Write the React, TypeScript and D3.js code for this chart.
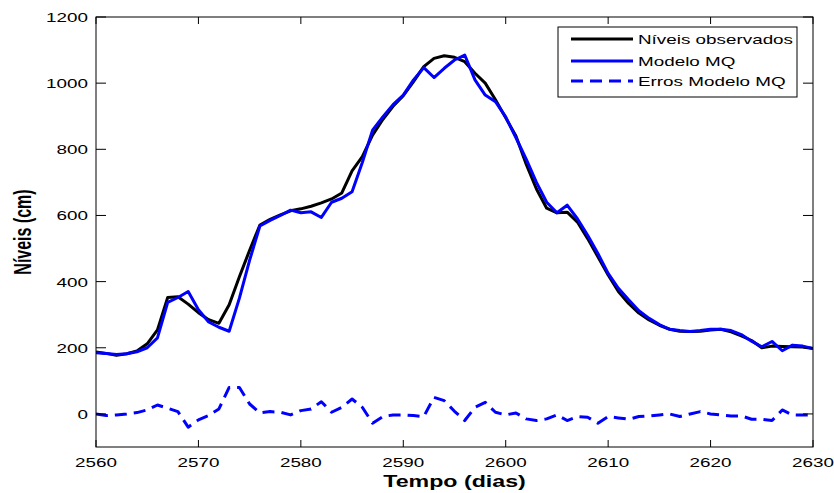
import React from "react";
import * as d3 from "d3";

const days: number[] = d3.range(2560, 2631);

const observed: number[] = [
  187, 183, 177, 182, 190, 212, 254, 352, 354, 332,
  306, 285, 274, 330, 415, 495, 571, 588, 602, 614,
  620, 628, 638, 650, 668, 735, 778, 843, 890, 930,
  962, 1005, 1050, 1075, 1083, 1078, 1065, 1030, 1000, 950,
  895, 840, 755, 680, 622, 608, 610, 580, 530, 475,
  420, 370, 334, 305, 284, 268, 256, 250, 249, 250,
  254, 256, 248, 236, 222, 200, 205, 204, 203, 202,
  198,
];

const model: number[] = [
  185, 183, 180, 182, 188, 200, 230, 337, 352, 370,
  315, 278, 262, 250, 350, 465, 568, 585, 600, 616,
  608, 611, 594, 640, 652, 672, 760, 858, 898, 935,
  964, 1010, 1047, 1017, 1045, 1070, 1085, 1010, 964, 944,
  898, 835, 770, 700, 640, 608, 631, 590, 540, 485,
  425, 380, 345, 312, 289, 270, 256, 252, 249, 252,
  256, 256, 252, 240, 220, 203, 219, 191, 208, 205,
  198,
];

const errors: number[] = [
  0, -5, -3, 0, 4, 12, 27, 17, 7, -40,
  -18, -5, 15, 80, 80, 30, 3, 7, 5, -3,
  10, 15, 37, 5, 20, 45, 20, -28, -8, -3,
  -3, -5, -8, 50, 40, 8, -20, 20, 35, 5,
  -3, 3, -15, -20, -15, -3, -20, -8, -10, -28,
  -8, -12, -16, -8, -6, -3, 0, -8, 0, 7,
  0, -3, -6, -6, -16, -16, -20, 12, -3, -3,
  -3,
];

const xTicks: number[] = [2560, 2570, 2580, 2590, 2600, 2610, 2620, 2630];
const yTicks: number[] = [0, 200, 400, 600, 800, 1000, 1200];

const legendLabels: string[] = ["Níveis observados", "Modelo MQ", "Erros Modelo MQ"];
const xLabel = "Tempo (dias)";
const yLabel = "Níveis (cm)";

const W = 834;
const H = 493;
const L = 96;
const R = 813;
const T = 17;
const B = 447;
const SX = 1.45;
const FONT = "'Liberation Sans', Arial, Helvetica, sans-serif";

export default function App() {
  const x = d3.scaleLinear().domain([2560, 2630]).range([L, R]);
  const y = d3.scaleLinear().domain([-100, 1200]).range([B, T]);

  const line = (vals: number[]) =>
    d3
      .line<number>()
      .x((_, i) => x(days[i]))
      .y((v) => y(v))(vals) || "";

  const legX = 558;
  const legY = 27;
  const legW = 239;
  const legH = 70;
  const rows = [39, 61, 81];
  const styles = [
    { stroke: "#000000", dash: undefined as string | undefined },
    { stroke: "#0000ff", dash: undefined as string | undefined },
    { stroke: "#0000ff", dash: "12,7" },
  ];

  return (
    <svg
      width={W}
      height={H}
      style={{ position: "absolute", left: 0, top: 0, background: "#fff" }}
    >
      <rect x={0} y={0} width={W} height={H} fill="#fff" />
      <defs>
        <clipPath id="plotclip">
          <rect x={L} y={T} width={R - L} height={B - T} />
        </clipPath>
      </defs>

      {/* data lines */}
      <g clipPath="url(#plotclip)" fill="none" strokeLinejoin="round">
        <path d={line(observed)} stroke="#000" strokeWidth={3} />
        <path d={line(model)} stroke="#0000ff" strokeWidth={3} />
        <path d={line(errors)} stroke="#0000ff" strokeWidth={3} strokeDasharray="12,7" />
      </g>

      {/* axes box */}
      <rect x={L} y={T} width={R - L} height={B - T} fill="none" stroke="#000" strokeWidth={1} />

      {/* x ticks */}
      {xTicks.map((t) => (
        <g key={"x" + t}>
          <line x1={x(t)} x2={x(t)} y1={B} y2={B - 7} stroke="#000" />
          <line x1={x(t)} x2={x(t)} y1={T} y2={T + 7} stroke="#000" />
          <text
            transform={`translate(${x(t)},${467}) scale(${SX},1)`}
            textAnchor="middle"
            fontFamily={FONT}
            fontSize={13}
            fill="#000"
          >
            {t}
          </text>
        </g>
      ))}

      {/* y ticks */}
      {yTicks.map((t) => (
        <g key={"y" + t}>
          <line x1={L} x2={L + 10} y1={y(t)} y2={y(t)} stroke="#000" />
          <line x1={R} x2={R - 10} y1={y(t)} y2={y(t)} stroke="#000" />
          <text
            transform={`translate(${88},${y(t) + 5}) scale(${SX},1)`}
            textAnchor="end"
            fontFamily={FONT}
            fontSize={13}
            fill="#000"
          >
            {t}
          </text>
        </g>
      ))}

      {/* axis labels */}
      <text
        transform={`translate(${(L + R) / 2},${487}) scale(${SX},1)`}
        textAnchor="middle"
        fontFamily={FONT}
        fontSize={16}
        fontWeight="bold"
        fill="#000"
      >
        {xLabel}
      </text>
      <text
        transform={`translate(${31},${(T + B) / 2}) scale(${SX},1) rotate(-90)`}
        textAnchor="middle"
        fontFamily={FONT}
        fontSize={16}
        fontWeight="bold"
        fill="#000"
      >
        {yLabel}
      </text>

      {/* legend */}
      <rect x={legX} y={legY} width={legW} height={legH} fill="#fff" stroke="#000" strokeWidth={1} />
      {legendLabels.map((lab, i) => (
        <g key={lab}>
          <line
            x1={571}
            x2={633}
            y1={rows[i]}
            y2={rows[i]}
            stroke={styles[i].stroke}
            strokeWidth={3}
            strokeDasharray={styles[i].dash}
          />
          <text
            transform={`translate(${638},${rows[i] + 5}) scale(${SX},1)`}
            fontFamily={FONT}
            fontSize={13}
            fill="#000"
          >
            {lab}
          </text>
        </g>
      ))}
    </svg>
  );
}
